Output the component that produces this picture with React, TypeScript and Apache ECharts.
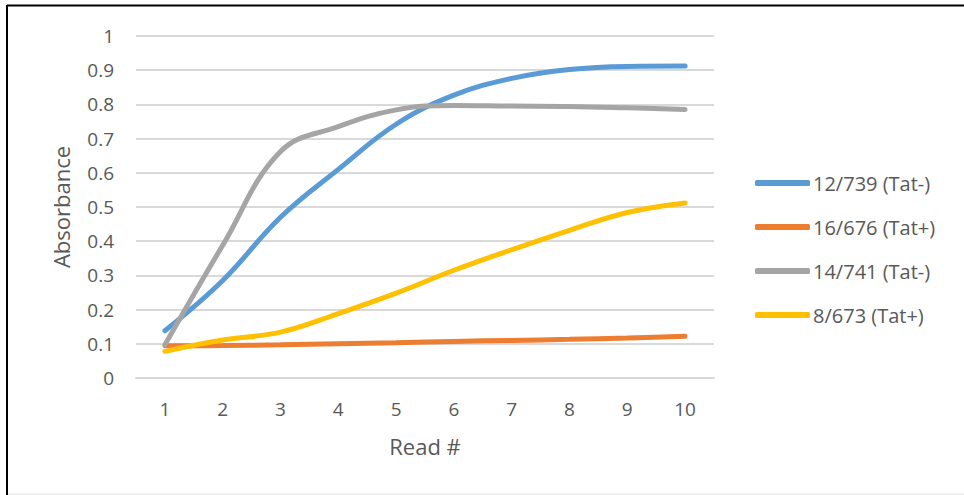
import React, { useEffect, useRef } from "react";
import * as echarts from "echarts";

const categories = ["1", "2", "3", "4", "5", "6", "7", "8", "9", "10"];
const seriesNames = ["12/739 (Tat-)", "16/676 (Tat+)", "14/741 (Tat-)", "8/673 (Tat+)"];
const s12_739 = [0.138, 0.285, 0.47, 0.61, 0.742, 0.827, 0.876, 0.902, 0.911, 0.912];
const s16_676 = [0.094, 0.095, 0.097, 0.1, 0.103, 0.107, 0.11, 0.113, 0.117, 0.122];
const s14_741 = [0.097, 0.388, 0.662, 0.735, 0.784, 0.797, 0.795, 0.794, 0.79, 0.785];
const s8_673 = [0.078, 0.111, 0.134, 0.188, 0.248, 0.315, 0.375, 0.432, 0.484, 0.512];
const colors = ["#5B9BD5", "#ED7D31", "#A5A5A5", "#FFC000"];

export default function App() {
  const ref = useRef<HTMLDivElement>(null);
  useEffect(() => {
    if (!ref.current) return;
    const chart = echarts.init(ref.current, undefined, { renderer: "svg" });
    const data = [s12_739, s16_676, s14_741, s8_673];
    const font = "'Open Sans', sans-serif";
    chart.setOption({
      animation: false,
      backgroundColor: "#ffffff",
      grid: { left: 136, right: 250, top: 36, bottom: 117, containLabel: false },
      legend: {
        orient: "vertical",
        left: 750,
        top: 168,
        itemWidth: 55,
        itemHeight: 6,
        itemGap: 24,
        icon: "roundRect",
        data: seriesNames,
        textStyle: { fontFamily: font, fontSize: 20, color: "#595959", padding: [0, 0, 0, -2] },
      },
      xAxis: {
        type: "category",
        data: categories,
        boundaryGap: true,
        axisLine: { show: true, lineStyle: { color: "#d9d9d9", width: 2 } },
        axisTick: { show: false },
        axisLabel: { margin: 21, fontFamily: font, fontSize: 19, color: "#595959" },
        name: "Read #",
        nameLocation: "middle",
        nameGap: 57,
        nameTextStyle: { fontFamily: font, fontSize: 22, color: "#595959" },
      },
      yAxis: {
        type: "value",
        min: 0,
        max: 1,
        interval: 0.1,
        axisLine: { show: false },
        axisTick: { show: false },
        splitLine: { lineStyle: { color: "#d9d9d9", width: 2 } },
        axisLabel: {
          margin: 22,
          fontFamily: font,
          fontSize: 19,
          color: "#595959",
          formatter: (v: number) => String(Math.round(v * 10) / 10),
        },
        name: "Absorbance",
        nameLocation: "middle",
        nameGap: 64,
        nameRotate: 90,
        nameTextStyle: { fontFamily: font, fontSize: 22, color: "#595959" },
      },
      series: data.map((d, i) => ({
        name: seriesNames[i],
        type: "line",
        data: d,
        smooth: 0.4,
        symbol: "none",
        color: colors[i],
        lineStyle: { width: 5, color: colors[i], cap: "round" },
        itemStyle: { color: colors[i] },
      })),
      graphic: [
        { type: "line", shape: { x1: 7, y1: 5.5, x2: 964, y2: 5.5 }, style: { stroke: "#000", lineWidth: 2 } },
        { type: "line", shape: { x1: 7, y1: 5, x2: 7, y2: 495 }, style: { stroke: "#000", lineWidth: 2 } },
        { type: "line", shape: { x1: 8, y1: 494, x2: 964, y2: 494 }, style: { stroke: "#e0e0e0", lineWidth: 1 } },
      ],
    });
    return () => chart.dispose();
  }, []);
  return (
    <div
      ref={ref}
      style={{ position: "fixed", left: 0, top: 0, width: 964, height: 495 }}
    />
  );
}
